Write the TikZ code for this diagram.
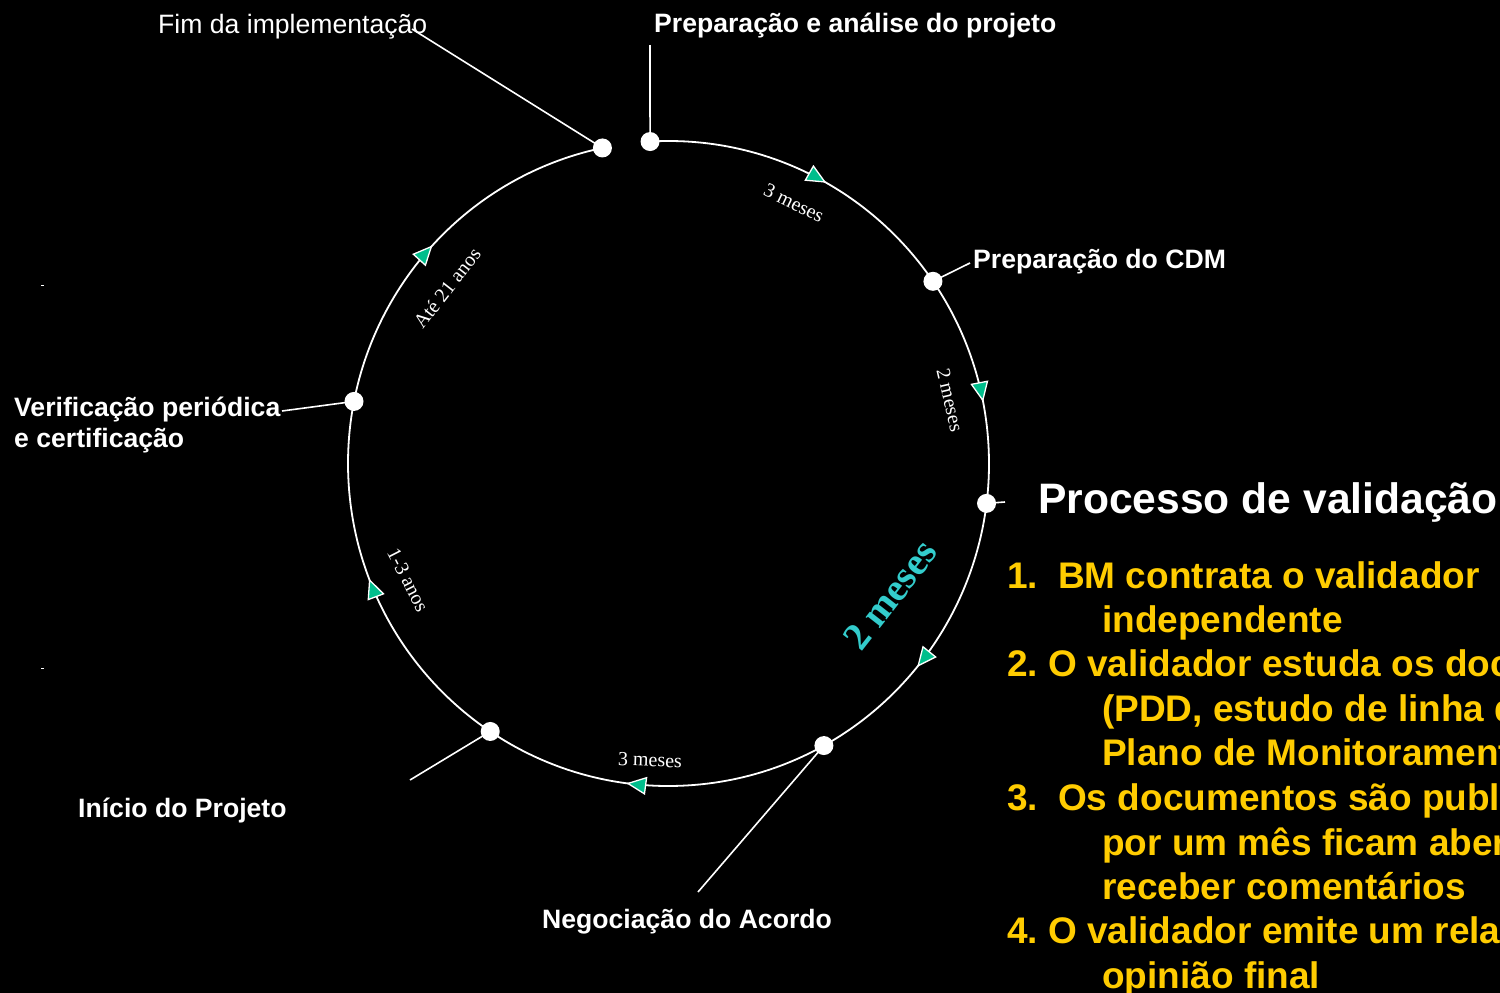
\documentclass[tikz,border=0pt]{standalone}
\usepackage{fontspec}
\setmainfont{Liberation Sans}
\newfontfamily\arcfont{Liberation Serif}
\usetikzlibrary{arrows.meta,decorations.markings,calc}
\definecolor{tealarrow}{RGB}{0,190,140}
\definecolor{tealtext}{RGB}{51,204,204}
\definecolor{listyellow}{RGB}{255,204,0}
\begin{document}
\begin{tikzpicture}[x=1pt,y=-1pt,
  dot/.style={circle,fill=white,inner sep=0pt,minimum size=19pt},
  conn/.style={draw=white,line width=1.6pt},
  circ/.style={draw=white,line width=1.8pt},
  lbl/.style={text=white,font=\bfseries\fontsize{26.6}{30}\selectfont,anchor=base west,inner sep=0pt},
  lblreg/.style={text=white,font=\fontsize{26.6}{30}\selectfont,anchor=base west,inner sep=0pt},
  arclbl/.style={text=white,font=\arcfont\fontsize{20}{24}\selectfont,inner sep=0pt},
  bigarclbl/.style={text=tealtext,font=\arcfont\bfseries\fontsize{39}{44}\selectfont,inner sep=0pt},
  titlelbl/.style={text=white,font=\bfseries\fontsize{42.6}{48}\selectfont,anchor=base west,inner sep=0pt},
  listlbl/.style={text=listyellow,font=\bfseries\fontsize{37}{44}\selectfont,anchor=base west,inner sep=0pt},
  gtip/.tip={Triangle[length=20pt,width=18pt,fill=tealarrow,color=white,line width=1.3pt]}
]
\useasboundingbox (0,0) rectangle (1500,993);
\fill[black] (0,0) rectangle (1500,993);
\begin{scope}
\clip (0,0) rectangle (1500,993);

\coordinate (c) at (668.5,463.5);
\path ($(c)+(-101.9:320.5 and 322.5)$) coordinate (pA);
\path ($(c)+(-93.3:320.5 and 322.5)$) coordinate (pB);
\path ($(c)+(-34.4:320.5 and 322.5)$) coordinate (pC);
\path ($(c)+(7.1:320.5 and 322.5)$) coordinate (pD);
\path ($(c)+(61.0:320.5 and 322.5)$) coordinate (pE);
\path ($(c)+(123.8:320.5 and 322.5)$) coordinate (pF);
\path ($(c)+(191.1:320.5 and 322.5)$) coordinate (pG);

% circle arc with arrowheads
\draw[circ,postaction={decorate,decoration={markings,
   mark=at position 0.093 with {\arrow{gtip}},
   mark=at position 0.234 with {\arrow{gtip}},
   mark=at position 0.377 with {\arrow{gtip}},
   mark=at position 0.543 with {\arrow{gtip}},
   mark=at position 0.718 with {\arrow{gtip}},
   mark=at position 0.899 with {\arrow{gtip}}}}]
  (pB) arc[start angle=-93.3,end angle=258.1,x radius=320.5,y radius=322.5];

% free ends of connectors
\coordinate (eA) at (412,29);
\coordinate (eB) at (650,45);
\coordinate (eC) at (970,263);
\coordinate (eD) at (1005,502);
\coordinate (eE) at (698,892);
\coordinate (eF) at (410,780);
\coordinate (eG) at (282,411);

\draw[conn] (pA) -- (eA);
\draw[conn] (pB) -- (eB);
\draw[conn] (pC) -- (eC);
\draw[conn] (pD) -- (eD);
\draw[conn] (pE) -- (eE);
\draw[conn] (pF) -- (eF);
\draw[conn] (pG) -- (eG);

\node[dot] (A) at (pA) {};
\node[dot] (B) at (pB) {};
\node[dot] (C) at (pC) {};
\node[dot] (D) at (pD) {};
\node[dot] (E) at (pE) {};
\node[dot] (F) at (pF) {};
\node[dot] (G) at (pG) {};

% labels
\node[lblreg] (tA) at (158,33) {Fim da implementação};
\node[lbl] (tB) at (654,32) {Preparação e análise do projeto};
\node[lbl] (tC) at (973,268) {Preparação do CDM};
\node[lbl] (tG1) at (14,416) {Verificação periódica};
\node[lbl] (tG2) at (14,447) {e certificação};
\node[lbl] (tF) at (78,817) {Início do Projeto};
\node[lbl] (tE) at (542,928) {Negociação do Acordo};

% arc duration labels
\node[arclbl,rotate=-26] (d1) at (794,203) {3 meses};
\node[arclbl,rotate=-77] (d2) at (950,400) {2 meses};
\node[bigarclbl,rotate=52] (d3) at (890,595) {2 meses};
\node[arclbl,rotate=-2] (d4) at (650,760) {3 meses};
\node[arclbl,rotate=-63] (d5) at (408,580) {1-3 anos};
\node[arclbl,rotate=52] (d6) at (447,288) {Até 21 anos};

% tiny marks
\draw[white,line width=1pt] (41,285.5) -- (44,285.5);
\draw[white,line width=1pt] (41,668.5) -- (44,668.5);

% validation process text
\node[titlelbl] (title) at (1038,513) {Processo de validação};
\node[listlbl] (n1) at (1007,588) {1.};
\node[listlbl] (l1) at (1058,588) {BM contrata o validador};
\node[listlbl] (l1b) at (1102,632) {independente};
\node[listlbl] (n2) at (1007,676) {2.};
\node[listlbl] (l2) at (1048,676) {O validador estuda os documentos};
\node[listlbl] (l2b) at (1102,721) {(PDD, estudo de linha de base,};
\node[listlbl] (l2c) at (1102,765) {Plano de Monitoramento)};
\node[listlbl] (n3) at (1007,810) {3.};
\node[listlbl] (l3) at (1058,810) {Os documentos são publicados e};
\node[listlbl] (l3b) at (1102,855) {por um mês ficam abertos para};
\node[listlbl] (l3c) at (1102,899) {receber comentários};
\node[listlbl] (n4) at (1007,943) {4.};
\node[listlbl] (l4) at (1048,943) {O validador emite um relatório com a};
\node[listlbl] (l4b) at (1102,988) {opinião final};
\end{scope}
\end{tikzpicture}
\end{document}
